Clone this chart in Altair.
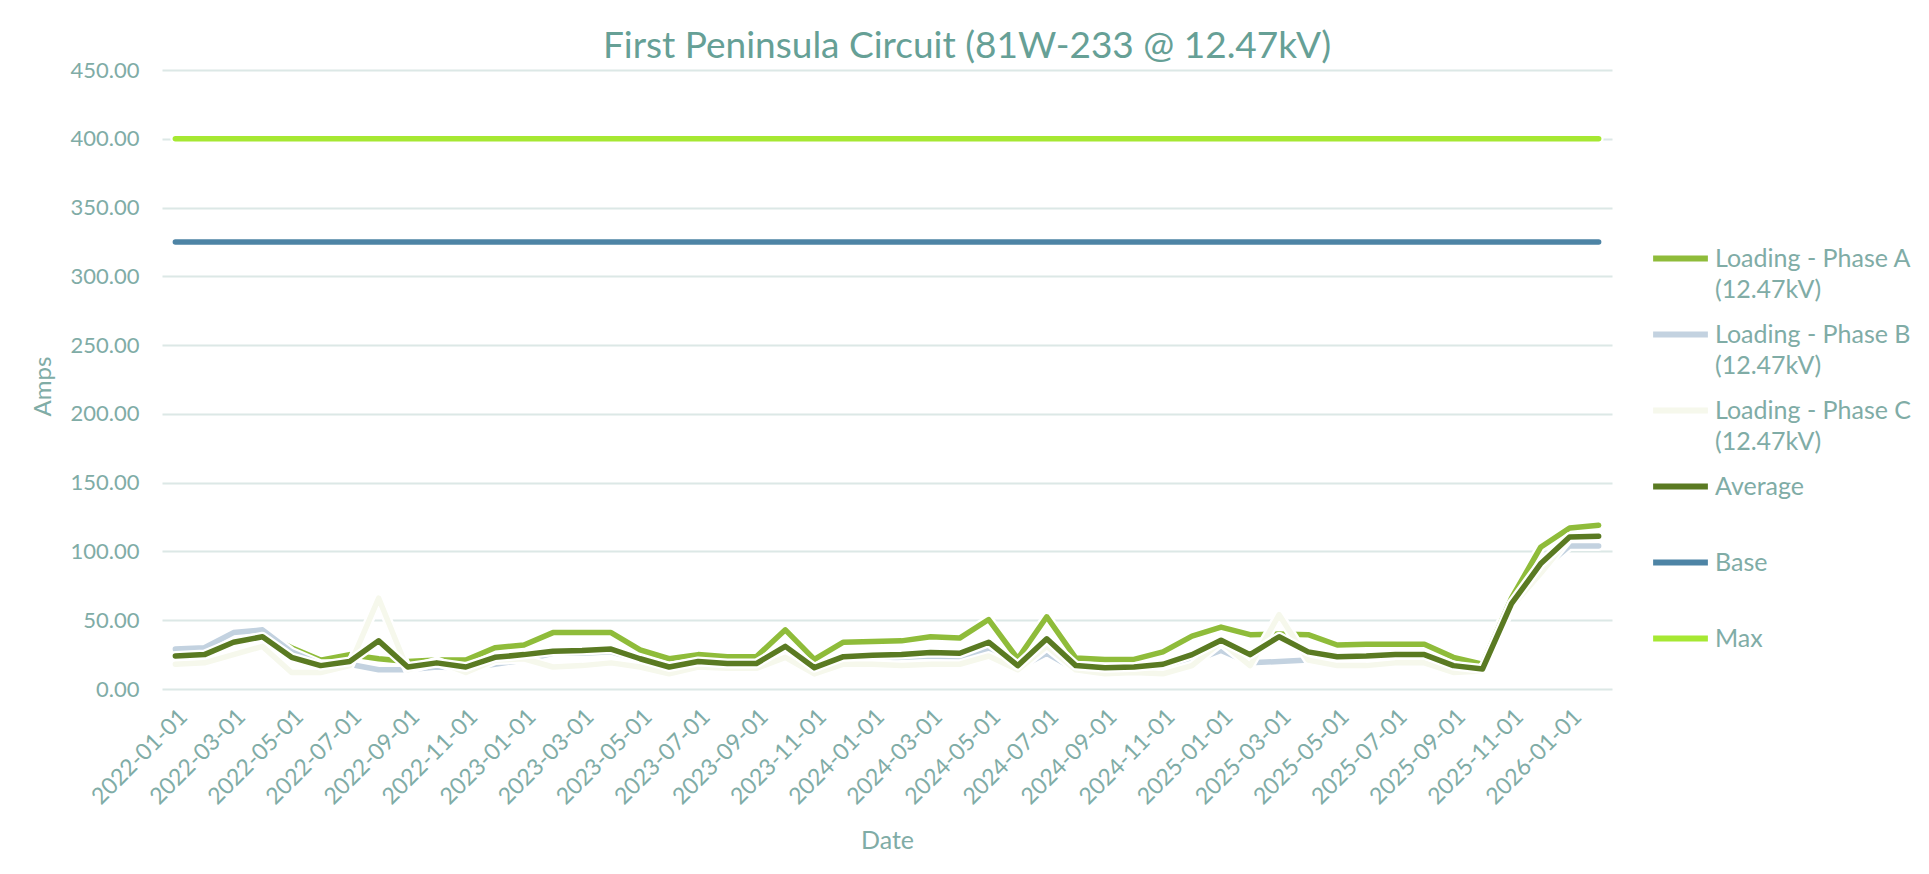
import altair as alt
import pandas as pd

# ---------------- data ----------------
dates = [f"{y}-{m:02d}-01" for y in range(2022, 2027) for m in range(1, 13)][:50]

phase_a = [25, 26, 36, 40, 30, 21, 25, 22, 20, 21, 21, 30,
           32, 41, 41, 41, 28.5, 22, 25, 23.5, 23.5, 43, 21.5, 34,
           34.5, 35, 38, 37, 50.5, 22, 52.5, 22.5, 21.5, 21.5, 27, 38.5,
           45, 39.5, 40, 39.5, 32, 32.5, 32.5, 32.5, 23, 18, 66, 103,
           117, 119]
phase_b = [29, 30, 41, 43, 27, 18, 18, 14, 14, 16, 15, 18,
           21, 26, 26, 27, 21, 16, 19, 17, 17, 27, 14, 19,
           21, 23, 24, 23, 28, 15, 26, 14, 14, 15, 16, 20,
           28, 19, 20, 21, 22, 23, 23, 23, 16, 13, 60, 86,
           104, 104]
phase_c = [18, 19, 25, 31, 12, 12, 17, 66, 14, 20, 12, 21,
           22, 16, 17, 19, 16, 11, 16, 15, 15, 23, 11, 18,
           18, 17, 18, 18, 24, 14, 31, 14, 11, 12, 11, 17,
           34, 17, 54, 21, 17, 17, 19, 19, 12, 13, 60, 84,
           110, 110]
average = [24, 25, 34, 38, 23, 17, 20, 35, 16, 19, 16, 23,
           25, 27.5, 28, 29, 22, 16, 20, 18.5, 18.5, 31, 15.5, 23.5,
           24.5, 25, 26.5, 26, 34, 17, 36.5, 17, 15.5, 16, 18, 25,
           35.5, 25, 38, 27, 23.5, 24, 25, 25, 17, 14.5, 62, 91,
           110.5, 111]
base_level = 325
max_level = 400

series_names = ["Loading - Phase A (12.47kV)", "Loading - Phase B (12.47kV)",
                "Loading - Phase C (12.47kV)", "Average", "Base", "Max"]
series_colors = ["#8fbc3a", "#c3d2e0", "#f6f8ec", "#5a7a22", "#4d84a5", "#a6e832"]
tick_dates = dates[::2]
y_ticks = [0, 50, 100, 150, 200, 250, 300, 350, 400, 450]

series_values = [phase_a, phase_b, phase_c, average,
                 [base_level] * len(dates), [max_level] * len(dates)]
rows = []
for name, vals in zip(series_names, series_values):
    for d, v in zip(dates, vals):
        rows.append({"Date": d, "Series": name, "Amps": v})
df = pd.DataFrame(rows)

# ---------------- styling ----------------
TEXT = "#80aca6"
TITLE = "#66a096"
GRID = "#dce8e6"
FONT = "Lato"

x_enc = alt.X("Date:O",
              scale=alt.Scale(type="point", padding=0.46),
              axis=alt.Axis(values=tick_dates, labelAngle=-45, title="Date",
                            grid=False, domain=False, ticks=False,
                            labelPadding=16, labelFontSize=23, labelColor=TEXT,
                            labelFont=FONT, titleFont=FONT, titleFontSize=25,
                            titleFontWeight="normal", titleColor=TEXT,
                            titlePadding=20))
y_enc = alt.Y("Amps:Q",
              scale=alt.Scale(domain=[0, 450], nice=False),
              axis=alt.Axis(values=y_ticks, format=".2f", title="Amps",
                            grid=True, gridColor=GRID, gridWidth=2,
                            domain=False, ticks=False, labelPadding=23,
                            labelFontSize=22, labelColor=TEXT, labelFont=FONT,
                            titleFont=FONT, titleFontSize=24,
                            titleFontWeight="normal", titleColor=TEXT,
                            titleX=-119, titleY=316, titleBaseline="middle"))

label_expr = ("indexof(datum.label, ' (') > 0 ? "
              "[substring(datum.label, 0, indexof(datum.label, ' (')), "
              "substring(datum.label, indexof(datum.label, ' (') + 1)] : "
              "[datum.label, '']")

color_enc = alt.Color("Series:N",
                      scale=alt.Scale(domain=series_names, range=series_colors),
                      legend=alt.Legend(title=None, orient="none",
                                        legendX=1488, legendY=158,
                                        symbolType="stroke", symbolSize=3000,
                                        symbolStrokeWidth=6,
                                        labelFontSize=25, labelColor=TEXT,
                                        labelFont=FONT, labelExpr=label_expr,
                                        labelLimit=400, labelOffset=4,
                                        labelBaseline="middle",
                                        rowPadding=1))

layers = []
for name in series_names:
    base = alt.Chart(df).transform_filter(alt.datum.Series == name)
    layers.append(base.mark_line(color="white", strokeWidth=10,
                                 strokeJoin="round", strokeCap="round")
                  .encode(x=x_enc, y=y_enc))
    layers.append(base.mark_line(strokeWidth=5.5, strokeJoin="round",
                                 strokeCap="round")
                  .encode(x=x_enc, y=y_enc, color=color_enc))

chart = alt.layer(*layers).properties(
    width=1450, height=619,
    autosize=alt.AutoSizeParams(type="none"),
    padding={"left": 154, "top": 62, "right": 300, "bottom": 170},
    title=alt.TitleParams(text="First Peninsula Circuit (81W-233 @ 12.47kV)",
                          fontSize=37, font=FONT, fontWeight="normal",
                          color=TITLE, anchor="middle", dx=80, dy=15, offset=8),
).configure(
    background="white",
    style={"guide-label": {"lineHeight": 31}},
).configure_view(strokeWidth=0)

chart.save("out.html", embed_options={"renderer": "svg", "actions": False})
